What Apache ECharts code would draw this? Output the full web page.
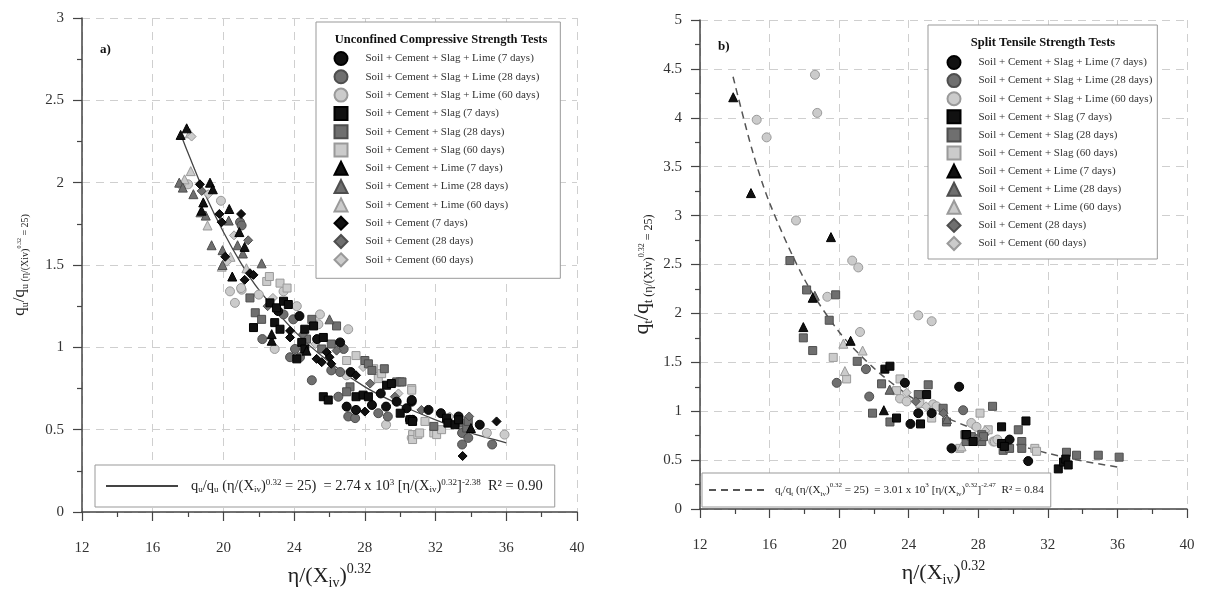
<!DOCTYPE html>
<html>
<head>
<meta charset="utf-8">
<title>Normalized strength vs adjusted porosity/binder index</title>
<script src="https://cdn.jsdelivr.net/npm/echarts@6/dist/echarts.min.js"></script>
<style>
html,body{margin:0;padding:0;background:#fff;}
#main{width:1205px;height:595px;}
</style>
</head>
<body>
<div id="main"></div>
<script>
// axis ranges (x is the same on both panels)
var xMin = 12, xMax = 40, xStep = 4;
var yMaxUcs = 3, yMaxSts = 5, yStep = 0.5;

// series names
var nameSCSL7 = 'Soil + Cement + Slag + Lime (7 days)';
var nameSCSL28 = 'Soil + Cement + Slag + Lime (28 days)';
var nameSCSL60 = 'Soil + Cement + Slag + Lime (60 days)';
var nameSCS7 = 'Soil + Cement + Slag (7 days)';
var nameSCS28 = 'Soil + Cement + Slag (28 days)';
var nameSCS60 = 'Soil + Cement + Slag (60 days)';
var nameSCL7 = 'Soil + Cement + Lime (7 days)';
var nameSCL28 = 'Soil + Cement + Lime (28 days)';
var nameSCL60 = 'Soil + Cement + Lime (60 days)';
var nameSC7 = 'Soil + Cement (7 days)';
var nameSC28 = 'Soil + Cement (28 days)';
var nameSC60 = 'Soil + Cement (60 days)';

// a) unconfined compressive strength, [eta/Xiv^0.32, qu/qu25]
var ucsSCSL7 = [[23.1,1.22],[24.3,1.19],[25.3,1.05],[26.6,1.03],[27.2,0.85],[26.97,0.64],[27.5,0.62],[28.4,0.65],[28.9,0.72],[29.2,0.64],[29.8,0.67],[30.36,0.63],[30.65,0.67],[30.65,0.68],[30.55,0.56],[30.7,0.56],[31.6,0.62],[32.3,0.6],[33.3,0.58],[34.5,0.53]];
var ucsSCSL28 = [[20.94,1.76],[21.03,1.74],[22.2,1.05],[23.4,1.20],[23.95,1.17],[24.05,0.99],[23.77,0.94],[24.33,0.94],[25.0,0.80],[26.8,0.99],[26.1,0.86],[26.6,0.85],[26.5,0.70],[27.06,0.58],[27.45,0.57],[28.76,0.60],[29.3,0.58],[33.5,0.48],[33.85,0.45],[33.5,0.41],[35.2,0.41]];
var ucsSCSL60 = [[18.0,1.99],[19.86,1.89],[20.37,1.34],[21.03,1.35],[20.65,1.27],[21.0,1.36],[22.0,1.32],[23.4,1.34],[22.9,0.99],[24.15,1.25],[25.46,1.20],[25.37,1.14],[27.06,1.11],[26.97,0.83],[27.3,0.61],[29.2,0.53],[30.65,0.45],[34.9,0.48],[35.9,0.47]];
var ucsSCS7 = [[21.7,1.12],[22.63,1.27],[23.0,1.24],[23.4,1.28],[23.67,1.26],[22.9,1.15],[23.2,1.11],[24.6,1.11],[25.1,1.13],[25.65,1.06],[24.43,1.03],[24.6,0.99],[24.15,0.93],[25.65,0.70],[25.93,0.68],[27.5,0.70],[27.9,0.71],[28.2,0.70],[29.23,0.77],[29.5,0.78],[30.0,0.60],[30.55,0.56],[30.7,0.55],[32.62,0.57],[32.7,0.54],[33.1,0.53],[33.3,0.56]];
var ucsSCS28 = [[21.5,1.30],[21.8,1.21],[22.16,1.17],[24.7,1.05],[25.0,1.17],[26.4,1.13],[25.56,0.99],[26.1,1.02],[27.16,0.76],[26.97,0.73],[28.0,0.92],[28.2,0.90],[28.4,0.86],[29.1,0.87],[29.8,0.79],[30.0,0.79],[30.1,0.79],[31.9,0.52],[33.57,0.54],[33.76,0.51],[33.85,0.55]];
var ucsSCS60 = [[22.45,1.40],[22.6,1.43],[23.2,1.39],[23.6,1.36],[26.97,0.92],[27.5,0.95],[28.5,0.87],[28.76,0.81],[28.95,0.84],[30.65,0.75],[30.65,0.74],[30.7,0.47],[30.7,0.44],[31.0,0.47],[31.1,0.48],[31.4,0.55],[31.9,0.48],[32.06,0.47],[32.34,0.50]];
var ucsSCL7 = [[17.58,2.29],[17.92,2.33],[18.77,1.83],[18.86,1.88],[19.24,2.0],[19.4,1.96],[20.33,1.84],[20.9,1.70],[21.2,1.61],[20.5,1.43],[22.73,1.04],[22.73,1.08],[24.7,0.98],[34.0,0.51]];
var ucsSCL28 = [[17.5,2.0],[17.7,1.97],[18.3,1.93],[18.7,1.82],[19.0,1.80],[19.33,1.62],[19.95,1.59],[19.95,1.50],[20.3,1.77],[20.8,1.62],[21.1,1.57],[22.16,1.51],[26.0,1.17]];
var ucsSCL60 = [[17.8,2.02],[18.1,2.30],[18.15,2.07],[19.1,1.74],[19.9,1.49],[20.4,1.55],[21.3,1.48]];
var ucsSC7 = [[18.67,1.99],[19.77,1.81],[19.9,1.76],[20.1,1.55],[21.0,1.81],[21.2,1.41],[21.5,1.45],[21.7,1.44],[23.77,1.10],[23.77,1.06],[25.27,0.93],[25.56,0.91],[25.84,0.97],[26.0,0.94],[26.1,0.90],[27.5,0.83],[28.0,0.61],[33.53,0.34],[35.45,0.55]];
var ucsSC28 = [[18.77,1.95],[21.4,1.65],[22.5,1.25],[24.5,1.08],[26.4,0.98],[28.3,0.78],[29.7,0.70],[31.2,0.62],[33.9,0.58]];
var ucsSC60 = [[17.6,1.98],[18.2,2.28],[19.14,1.93],[20.2,1.52],[20.6,1.68],[22.8,1.30],[25.2,1.02],[27.9,0.88],[29.9,0.72],[32.8,0.58]];
// fitted curve
var fitUcs = [[17.6,2.29],[18,2.18],[19,1.92],[20,1.70],[21,1.51],[22,1.35],[24,1.10],[26,0.91],[28,0.76],[30,0.65],[32,0.56],[34,0.48],[36,0.42]];

// b) split tensile strength, [eta/Xiv^0.32, qt/qt25]
var stsSCSL7 = [[23.78,1.29],[24.1,0.87],[24.55,0.98],[25.32,0.98],[26.46,0.62],[26.9,1.25],[29.8,0.71],[30.87,0.49]];
var stsSCSL28 = [[19.86,1.29],[21.54,1.43],[21.73,1.15],[27.13,1.01]];
var stsSCSL60 = [[15.26,3.98],[15.83,3.80],[17.52,2.95],[18.61,4.44],[18.74,4.05],[19.32,2.17],[20.75,2.54],[21.1,2.47],[21.2,1.81],[23.5,1.13],[23.88,1.10],[24.55,1.98],[25.32,1.92],[25.4,1.07],[25.6,1.05],[27.6,0.88],[27.9,0.84],[28.86,0.69],[28.95,0.69],[29.1,0.71]];
var stsSCS7 = [[22.63,1.43],[22.92,1.46],[23.3,0.93],[24.68,0.87],[25.03,1.17],[27.3,0.76],[27.33,0.76],[27.7,0.69],[29.34,0.84],[29.34,0.67],[29.5,0.64],[30.74,0.90],[32.6,0.41],[32.9,0.48],[33.03,0.51],[33.17,0.45]];
var stsSCS28 = [[17.17,2.54],[17.94,1.75],[18.13,2.24],[18.48,1.62],[19.43,1.93],[19.8,2.19],[21.04,1.51],[21.92,0.98],[22.44,1.28],[22.92,0.89],[24.55,1.17],[25.12,1.27],[25.98,1.03],[26.17,0.89],[27.23,0.76],[27.3,0.69],[27.6,0.74],[28.2,0.76],[28.2,0.69],[28.3,0.74],[28.82,1.05],[29.43,0.60],[29.8,0.62],[30.3,0.81],[30.5,0.69],[30.5,0.62],[33.07,0.58],[33.65,0.55],[34.9,0.55],[36.1,0.53]];
var stsSCS60 = [[19.66,1.55],[20.43,1.33],[23.3,1.21],[23.5,1.33],[24.64,1.08],[25.32,0.93],[26.94,0.62],[28.1,0.98],[28.57,0.81],[31.25,0.62],[31.35,0.59]];
var stsSCL7 = [[13.91,4.21],[14.93,3.23],[17.94,1.86],[18.48,2.16],[19.53,2.78],[20.66,1.72],[22.57,1.01]];
var stsSCL28 = [[18.6,2.18],[22.9,1.22],[26.2,0.92]];
var stsSCL60 = [[20.24,1.69],[20.33,1.41],[21.35,1.62],[22.92,1.22],[27.04,0.64]];
var stsSC28 = [[24.4,1.10],[26.0,0.98],[27.9,0.72]];
var stsSC60 = [[23.88,1.19],[25.0,1.05],[28.4,0.80]];
var fitSts = [[13.9,4.42],[15,3.67],[16,3.13],[18,2.35],[20,1.81],[22,1.44],[24,1.16],[26,0.95],[28,0.80],[30,0.67],[32,0.57],[34,0.49],[36,0.43]];

var legendUcs = [nameSCSL7, nameSCSL28, nameSCSL60, nameSCS7, nameSCS28, nameSCS60, nameSCL7, nameSCL28, nameSCL60, nameSC7, nameSC28, nameSC60];
var legendSts = [nameSCSL7, nameSCSL28, nameSCSL60, nameSCS7, nameSCS28, nameSCS60, nameSCL7, nameSCL28, nameSCL60, nameSC28, nameSC60];

var serif = 'Liberation Serif';
var shade = {
	7: {fill: '#111', border: '#000'},
	28: {fill: '#6f6f6f', border: '#4e4e4e'},
	60: {fill: '#cbcbcb', border: '#9a9a9a'}
};

var chart = echarts.init(document.getElementById('main'));

function dots(name, data, panel, symbol, days){
	var size = symbol == 'rect' ? 8 : 9;
	return {
		name: name,
		type: 'scatter',
		xAxisIndex: panel,
		yAxisIndex: panel,
		symbol: symbol,
		symbolSize: size,
		itemStyle: {color: shade[days].fill, borderColor: shade[days].border, borderWidth: 1, opacity: 1},
		data: data
	};
}

function xAxisFor(panel, gap){
	return {
		type: 'value', gridIndex: panel,
		min: xMin, max: xMax, interval: xStep,
		axisLine: {lineStyle: {color: '#444', width: 1.5}},
		axisTick: {length: 9, lineStyle: {color: '#444', width: 1.2}},
		minorTick: {show: true, splitNumber: 2, length: 5, lineStyle: {color: '#444', width: 1.2}},
		axisLabel: {margin: 29, fontFamily: serif, fontSize: 15, color: '#333'},
		splitLine: {show: true, lineStyle: {color: '#cfcfcf', type: [8, 6], width: 1}},
		name: '{m|η/(X}{sb|iv}{m|)}{sp|0.32}',
		nameLocation: 'middle',
		nameGap: gap,
		nameTextStyle: {
			color: '#222', fontFamily: serif,
			rich: {
				m: {fontFamily: serif, fontSize: 22, lineHeight: 28, color: '#222'},
				sb: {fontFamily: serif, fontSize: 14, verticalAlign: 'bottom', color: '#222'},
				sp: {fontFamily: serif, fontSize: 14, verticalAlign: 'top', color: '#222'}
			}
		}
	};
}

function yAxisFor(panel, max, name, gap, big, pad){
	return {
		type: 'value', gridIndex: panel,
		min: 0, max: max, interval: yStep,
		axisLine: {show: true, onZero: false, lineStyle: {color: '#444', width: 1.5}},
		axisTick: {show: true, length: 9, lineStyle: {color: '#444', width: 1.2}},
		minorTick: {show: true, splitNumber: 2, length: 5, lineStyle: {color: '#444', width: 1.2}},
		axisLabel: {margin: 18, fontFamily: serif, fontSize: 15, color: '#333'},
		splitLine: {show: true, lineStyle: {color: '#cfcfcf', type: [8, 6], width: 1}},
		name: name,
		nameLocation: 'middle',
		nameRotate: 90,
		nameGap: gap,
		nameTextStyle: {
			color: '#222', fontFamily: serif, padding: pad,
			rich: {
				q: {fontFamily: serif, fontSize: big, lineHeight: big + 4, color: '#222'},
				s: {fontFamily: serif, fontSize: Math.round(big * 0.56), verticalAlign: 'bottom', color: '#222'},
				ss: {fontFamily: serif, fontSize: Math.round(big * 0.38), verticalAlign: 'middle', color: '#222'}
			}
		}
	};
}

function withGap(name){
	return '{g|}' + name;
}
var legendText = {fontFamily: serif, fontSize: 11, color: '#333', lineHeight: 13, rich: {g: {width: 13}}};
var fitRich = function(main, small){
	return {
		a: {fontFamily: serif, fontSize: main, color: '#222'},
		b: {fontFamily: serif, fontSize: small, verticalAlign: 'bottom', color: '#222'},
		d: {fontFamily: serif, fontSize: small, verticalAlign: 'top', color: '#222'}
	};
};

option = {
	backgroundColor: '#fff',
	animation: false,
	grid: [
		{left: 82, top: 18, width: 495, height: 495},
		{left: 700, top: 20, width: 487, height: 489}
	],
	xAxis: [xAxisFor(0, 50), xAxisFor(1, 50)],
	yAxis: [
		yAxisFor(0, yMaxUcs, '{q|q}{s|u}{q|/q}{s|u (η/(Xiv)}{ss|0.32}{s| = 25)}', 52, 17, [0, 0, 0, 0]),
		yAxisFor(1, yMaxSts, '{q|q}{s|t}{q|/q}{s|t (η/(Xiv)}{ss|0.32}{s| = 25)}', 45, 22, [0, 20, 0, 0])
	],
	legend: [
		{
			data: legendUcs, orient: 'vertical', left: 316, top: 22,
			padding: [29, 21, 11, 17.5], itemWidth: 13, itemHeight: 13, itemGap: 3.3,
			borderColor: '#999', borderWidth: 1, backgroundColor: '#fff',
			formatter: withGap, textStyle: legendText, selectedMode: false
		},
		{
			data: legendSts, orient: 'vertical', left: 928, top: 25,
			padding: [30, 5, 8, 18.5], itemWidth: 13, itemHeight: 13, itemGap: 3.1,
			borderColor: '#999', borderWidth: 1, backgroundColor: '#fff',
			formatter: withGap, textStyle: legendText, selectedMode: false
		},
		{
			data: ['fitUcs'], left: 95, top: 465,
			padding: [13, 12, 13, 10], itemWidth: 72, itemHeight: 14,
			borderColor: '#999', borderWidth: 1, backgroundColor: '#fff', selectedMode: false,
			itemStyle: {opacity: 0},
			formatter: function(){
				return '{g|}{a|q}{b|u}{a|/q}{b|u}{a| (η/(X}{b|iv}{a|)}{d|0.32}{a| = 25)  = 2.74 x 10}{d|3}{a| [η/(X}{b|iv}{a|)}{d|0.32}{a|]}{d|-2.38}{a|  R² = 0.90}';
			},
			textStyle: {fontFamily: serif, color: '#222', lineHeight: 16, rich: Object.assign({g: {width: 8}}, fitRich(14.5, 9))}
		},
		{
			data: ['fitSts'], left: 702, top: 473,
			padding: [9, 7, 9, 6], itemWidth: 57, itemHeight: 14,
			borderColor: '#999', borderWidth: 1, backgroundColor: '#fff', selectedMode: false,
			itemStyle: {opacity: 0},
			formatter: function(){
				return '{g|}{a|q}{b|t}{a|/q}{b|t}{a| (η/(X}{b|iv}{a|)}{d|0.32}{a| = 25)  = 3.01 x 10}{d|3}{a| [η/(X}{b|iv}{a|)}{d|0.32}{a|]}{d|-2.47}{a|  R² = 0.84}';
			},
			textStyle: {fontFamily: serif, color: '#222', lineHeight: 16, rich: Object.assign({g: {width: 4}}, fitRich(11.2, 7))}
		}
	],
	graphic: [
		{type: 'text', x: 100, y: 50, z: 100, style: {text: 'a)', font: 'bold 13px "Liberation Serif"', fill: '#111', align: 'left', verticalAlign: 'middle'}},
		{type: 'text', x: 718, y: 47, z: 100, style: {text: 'b)', font: 'bold 13px "Liberation Serif"', fill: '#111', align: 'left', verticalAlign: 'middle'}},
		{type: 'text', x: 441, y: 40, z: 100, style: {text: 'Unconfined Compressive Strength Tests', font: 'bold 12.5px "Liberation Serif"', fill: '#111', align: 'center', verticalAlign: 'middle'}},
		{type: 'text', x: 1043, y: 43, z: 100, style: {text: 'Split Tensile Strength Tests', font: 'bold 12.5px "Liberation Serif"', fill: '#111', align: 'center', verticalAlign: 'middle'}}
	],
	series: [
		{name: 'fitUcs', type: 'line', xAxisIndex: 0, yAxisIndex: 0, data: fitUcs, smooth: 0.3, symbol: 'none', z: 1,
			itemStyle: {color: '#444'}, lineStyle: {color: '#444', width: 1.3}},
		{name: 'fitSts', type: 'line', xAxisIndex: 1, yAxisIndex: 1, data: fitSts, smooth: 0.3, symbol: 'none', z: 1,
			itemStyle: {color: '#555'}, lineStyle: {color: '#555', width: 1.5, type: [7, 5]}},
		dots(nameSCSL60, ucsSCSL60, 0, 'circle', 60),
		dots(nameSCS60, ucsSCS60, 0, 'rect', 60),
		dots(nameSCL60, ucsSCL60, 0, 'triangle', 60),
		dots(nameSC60, ucsSC60, 0, 'diamond', 60),
		dots(nameSCSL28, ucsSCSL28, 0, 'circle', 28),
		dots(nameSCS28, ucsSCS28, 0, 'rect', 28),
		dots(nameSCL28, ucsSCL28, 0, 'triangle', 28),
		dots(nameSC28, ucsSC28, 0, 'diamond', 28),
		dots(nameSCSL7, ucsSCSL7, 0, 'circle', 7),
		dots(nameSCS7, ucsSCS7, 0, 'rect', 7),
		dots(nameSCL7, ucsSCL7, 0, 'triangle', 7),
		dots(nameSC7, ucsSC7, 0, 'diamond', 7),
		dots(nameSCSL60, stsSCSL60, 1, 'circle', 60),
		dots(nameSCS60, stsSCS60, 1, 'rect', 60),
		dots(nameSCL60, stsSCL60, 1, 'triangle', 60),
		dots(nameSC60, stsSC60, 1, 'diamond', 60),
		dots(nameSCSL28, stsSCSL28, 1, 'circle', 28),
		dots(nameSCS28, stsSCS28, 1, 'rect', 28),
		dots(nameSCL28, stsSCL28, 1, 'triangle', 28),
		dots(nameSC28, stsSC28, 1, 'diamond', 28),
		dots(nameSCSL7, stsSCSL7, 1, 'circle', 7),
		dots(nameSCS7, stsSCS7, 1, 'rect', 7),
		dots(nameSCL7, stsSCL7, 1, 'triangle', 7)
	]
};
chart.setOption(option);
</script>
</body>
</html>
